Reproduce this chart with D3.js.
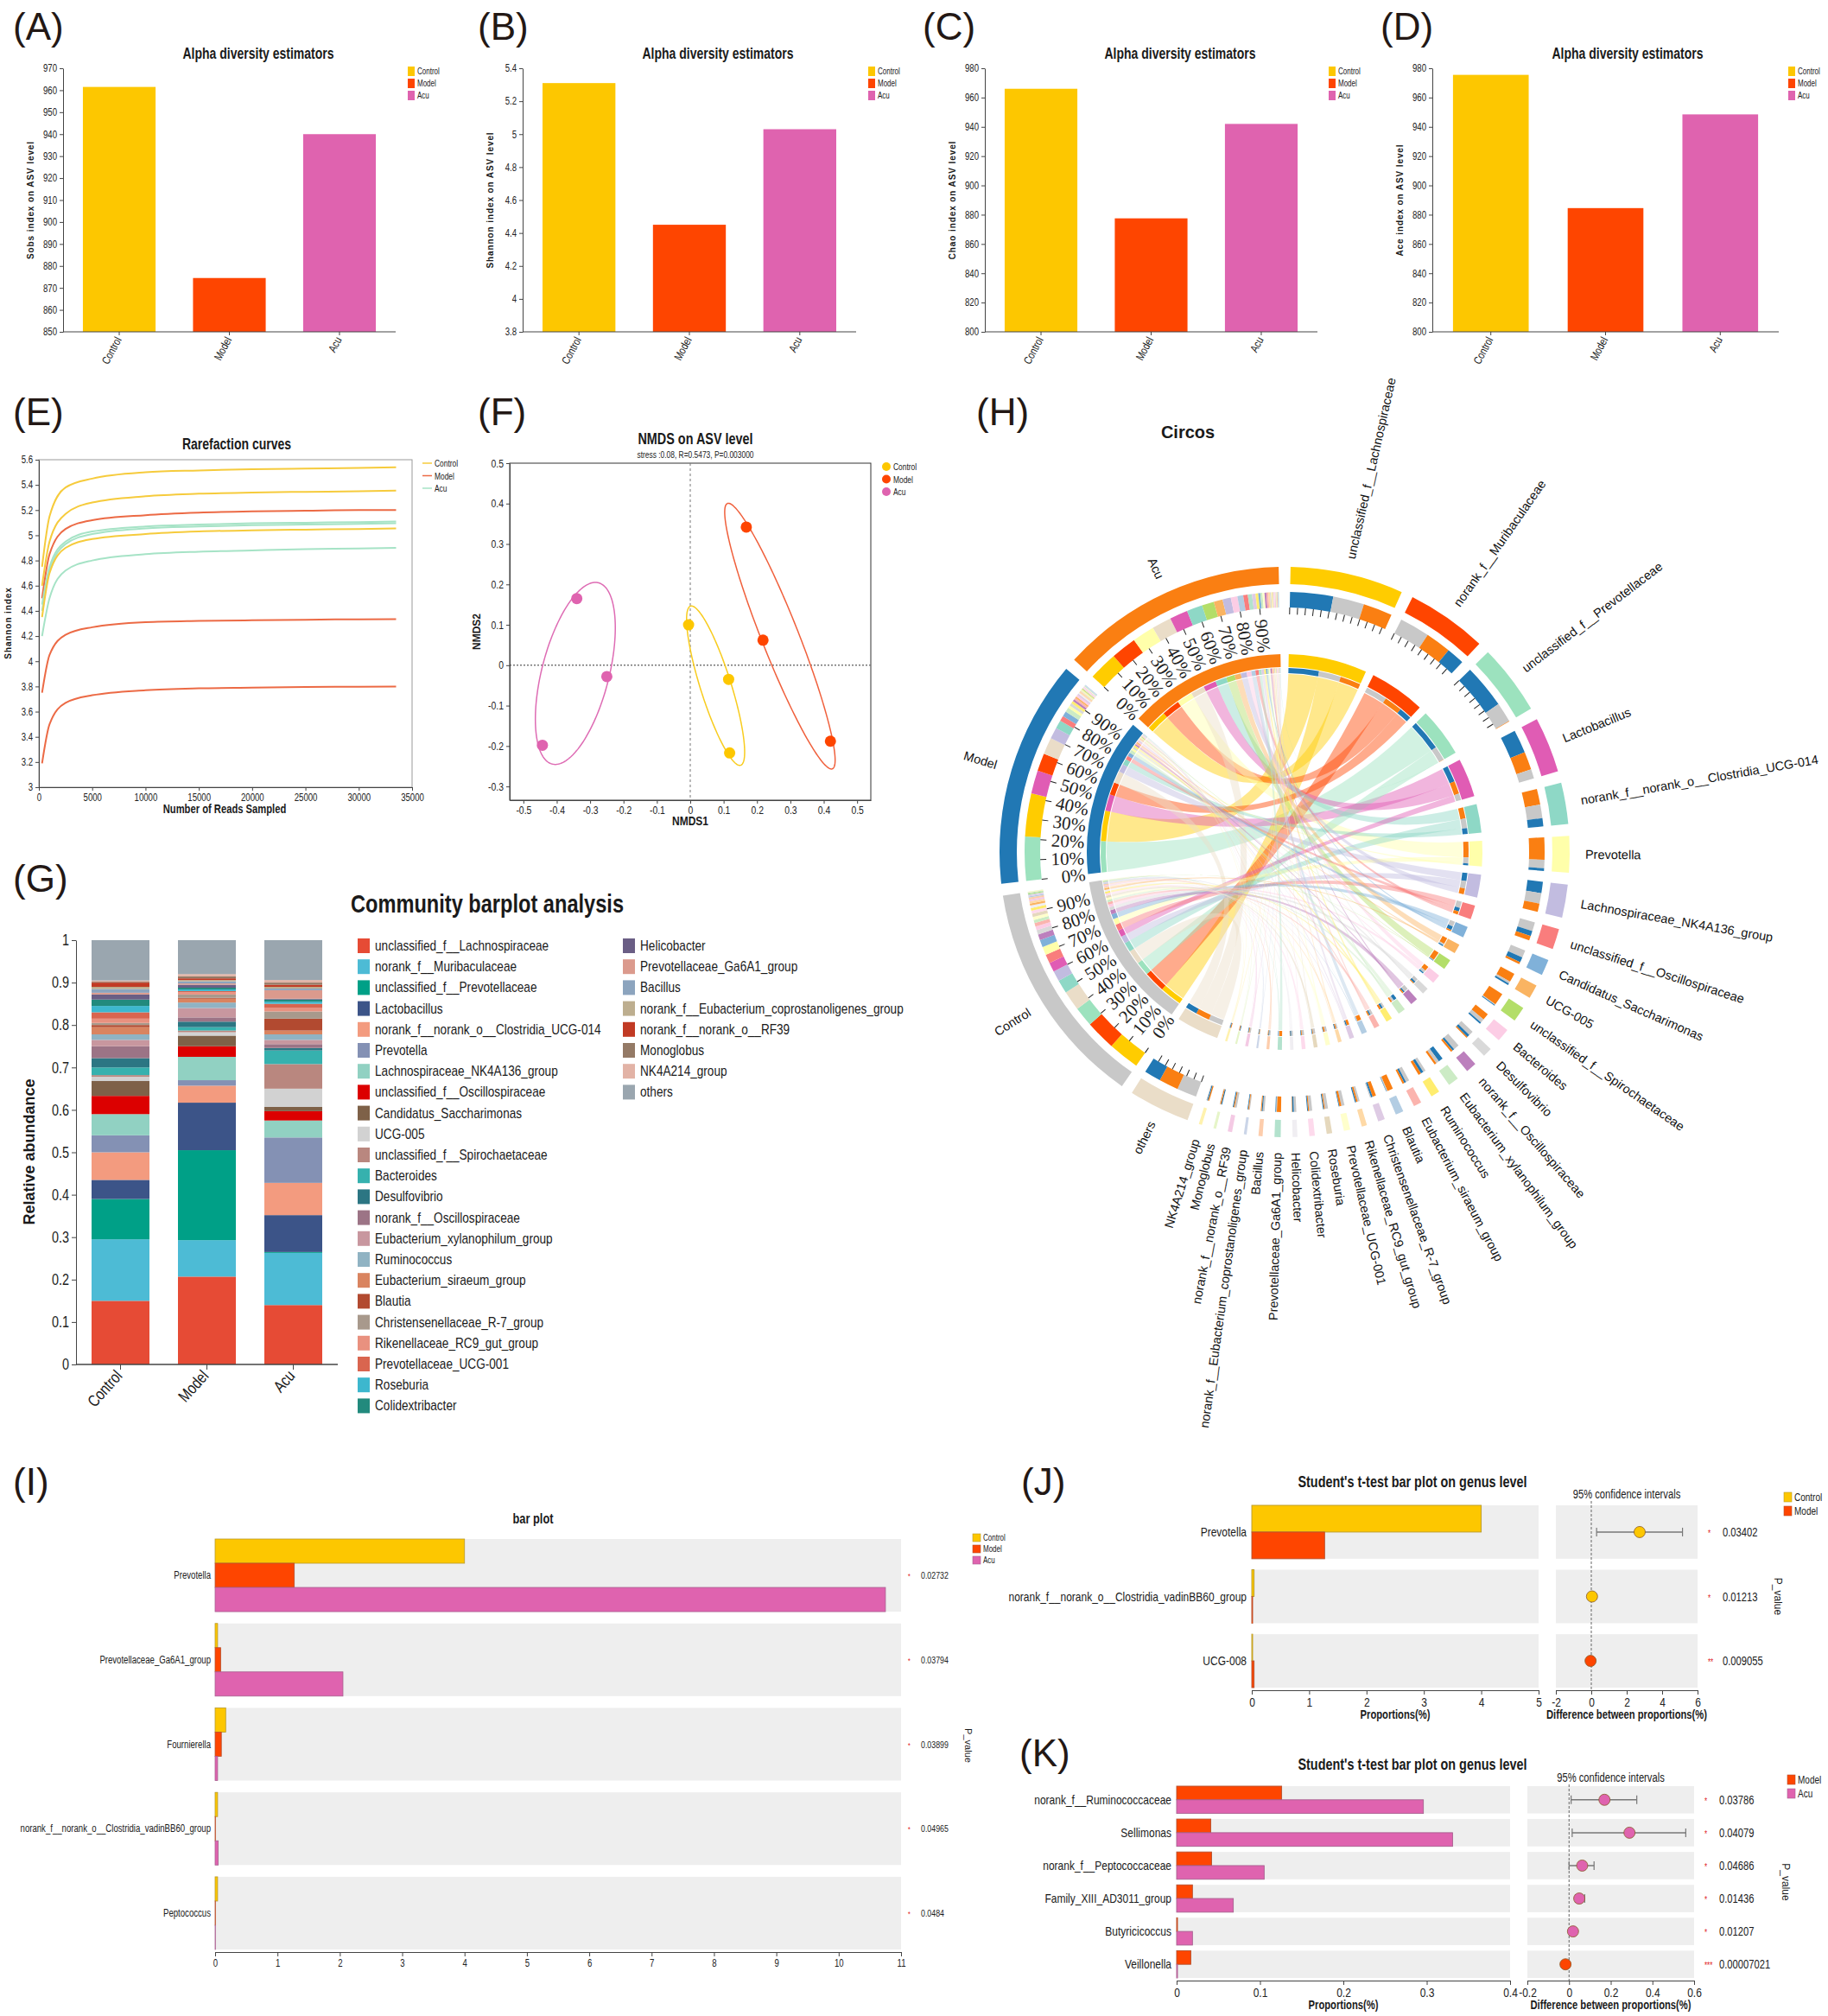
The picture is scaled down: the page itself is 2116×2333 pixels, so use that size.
<!DOCTYPE html>
<html>
<head>
<meta charset="utf-8">
<script src="https://cdn.jsdelivr.net/npm/d3@7"></script>
<style>body{margin:0;background:#fff}</style>
</head>
<body>
<div id="fig"></div>
<script>
// ---------------- data ----------------
var groups = ["Control", "Model", "Acu"];
var groupColors = ["#FDC700", "#FE4500", "#DF63AF"];

// (A)-(D) alpha diversity
var sobsValues = [961.5, 874.5, 940];
var shannonValues = [5.31, 4.45, 5.03];
var chaoValues = [966, 877.5, 942];
var aceValues = [975.5, 884.5, 948.5];

// (E) rarefaction curves, one row per sample
var readDepths = [300, 1000, 2500, 5000, 10000, 15000, 20000, 25000, 30000, 33500];
var rareSampleGroup = ["Control", "Control", "Model", "Acu", "Acu", "Control", "Acu", "Model", "Model"];
var rareShannon = [
    [4.75, 5.15, 5.38, 5.45, 5.50, 5.515, 5.525, 5.53, 5.535, 5.54],
    [4.60, 4.95, 5.17, 5.26, 5.31, 5.33, 5.34, 5.345, 5.35, 5.355],
    [4.50, 4.85, 5.05, 5.12, 5.16, 5.18, 5.19, 5.195, 5.20, 5.20],
    [4.45, 4.75, 4.95, 5.03, 5.07, 5.085, 5.095, 5.10, 5.105, 5.11],
    [4.40, 4.72, 4.93, 5.01, 5.055, 5.07, 5.08, 5.085, 5.09, 5.095],
    [4.35, 4.70, 4.90, 4.97, 5.01, 5.03, 5.04, 5.045, 5.05, 5.055],
    [4.20, 4.50, 4.72, 4.80, 4.85, 4.87, 4.88, 4.89, 4.895, 4.90],
    [3.75, 4.05, 4.21, 4.27, 4.31, 4.32, 4.325, 4.33, 4.333, 4.335],
    [3.19, 3.50, 3.67, 3.73, 3.77, 3.785, 3.79, 3.795, 3.798, 3.80]
];
var rareColors = ["#F6CB3C", "#EC6A45", "#A6E3C6"];

// (F) NMDS
var nmdsGroup = ["Control", "Control", "Control", "Model", "Model", "Model", "Acu", "Acu", "Acu"];
var nmds1 = [-0.005, 0.115, 0.118, 0.168, 0.218, 0.42, -0.34, -0.25, -0.443];
var nmds2 = [0.10, -0.035, -0.217, 0.342, 0.062, -0.188, 0.165, -0.028, -0.198];
var ellipseLineColors = ["#F8CC1E", "#F0603C", "#DE6CB4"];

// (G) and (H) genus composition
var taxa = ["unclassified_f__Lachnospiraceae", "norank_f__Muribaculaceae", "unclassified_f__Prevotellaceae",
    "Lactobacillus", "norank_f__norank_o__Clostridia_UCG-014", "Prevotella", "Lachnospiraceae_NK4A136_group",
    "unclassified_f__Oscillospiraceae", "Candidatus_Saccharimonas", "UCG-005", "unclassified_f__Spirochaetaceae",
    "Bacteroides", "Desulfovibrio", "norank_f__Oscillospiraceae", "Eubacterium_xylanophilum_group", "Ruminococcus",
    "Eubacterium_siraeum_group", "Blautia", "Christensenellaceae_R-7_group", "Rikenellaceae_RC9_gut_group",
    "Prevotellaceae_UCG-001", "Roseburia", "Colidextribacter", "Helicobacter", "Prevotellaceae_Ga6A1_group",
    "Bacillus", "norank_f__Eubacterium_coprostanoligenes_group", "norank_f__norank_o__RF39", "Monoglobus",
    "NK4A214_group", "others"];
var controlAbund = [0.15, 0.145, 0.095, 0.045, 0.065, 0.04, 0.05, 0.043, 0.035, 0.01, 0.004, 0.018, 0.022, 0.028, 0.015,
    0.013, 0.017, 0.005, 0.005, 0.01, 0.015, 0.015, 0.015, 0.012, 0.004, 0.009, 0.005, 0.01, 0.002, 0.003, 0.095];
var modelAbund = [0.207, 0.086, 0.212, 0.112, 0.04, 0.013, 0.055, 0.025, 0.025, 0.008, 0.004, 0.008, 0.013, 0.01, 0.022,
    0.013, 0.009, 0.002, 0.008, 0.005, 0.003, 0.004, 0.004, 0.007, 0.003, 0.005, 0.003, 0.004, 0.005, 0.005, 0.08];
var acuAbund = [0.14, 0.123, 0.002, 0.087, 0.076, 0.107, 0.04, 0.022, 0.01, 0.043, 0.058, 0.032, 0.006, 0.009, 0.01,
    0.013, 0.009, 0.028, 0.017, 0.008, 0.01, 0.005, 0.005, 0.002, 0.02, 0.004, 0.004, 0.005, 0.005, 0.006, 0.094];
var barTaxaColors = ["#E64B35", "#4DBBD5", "#00A087", "#3C5488", "#F39B7F", "#8491B4", "#91D1C2", "#DC0000",
    "#7E6148", "#D2D2D2", "#B9877F", "#36B1AE", "#2C7683", "#9C7486", "#C8979F", "#90B3C3", "#D98460", "#B24A30",
    "#A8998C", "#E9917F", "#D9654F", "#3DB7CE", "#228A7D", "#6A5E85", "#DB9A8D", "#8CA4BE", "#BDAE8F", "#C13A24",
    "#947A66", "#E2B3A6", "#9AA6AF"];
var circosTaxaColors = ["#FFCC00", "#FF4500", "#9CE2BE", "#E05CB4", "#8ED8C6", "#FFFFAA", "#C2BCE0", "#F97D7D",
    "#80B1D9", "#FAB462", "#B3DE69", "#FCCDE5", "#D9D9D9", "#BC80BD", "#CCEBC5", "#FFED6F", "#FBB4AE", "#B3CDE3",
    "#DECBE4", "#FED9A6", "#FFFFCC", "#E5D8BD", "#FDDAEC", "#F0EEF2", "#B3E2CD", "#FDCDAC", "#CBD5E8", "#F4CAE4",
    "#E6F5C9", "#FFF2AE", "#EADDC8"];
var circosSampleColors = ["#C8C8C8", "#2178B4", "#FA7F12"];

// (I) bar plot
var iTaxa = ["Prevotella", "Prevotellaceae_Ga6A1_group", "Fournierella", "norank_f__norank_o__Clostridia_vadinBB60_group", "Peptococcus"];
var iControl = [4.0, 0.04, 0.17, 0.04, 0.04];
var iModel = [1.27, 0.09, 0.10, 0.005, 0.005];
var iAcu = [10.75, 2.05, 0.04, 0.05, 0.005];
var iPvalues = ["0.02732", "0.03794", "0.03899", "0.04965", "0.0484"];

// (J) Control vs Model t-test
var jTaxa = ["Prevotella", "norank_f__norank_o__Clostridia_vadinBB60_group", "UCG-008"];
var jControl = [4.0, 0.04, 0.002];
var jModel = [1.27, 0.002, 0.04];
var jDiff = [2.73, 0.04, -0.04];
var jLow = [0.3, 0.02, -0.06];
var jHigh = [5.15, 0.06, -0.02];
var jPvalues = ["0.03402", "0.01213", "0.009055"];
var jStars = ["*", "*", "**"];

// (K) Model vs Acu t-test
var kTaxa = ["norank_f__Ruminococcaceae", "Sellimonas", "norank_f__Peptococcaceae", "Family_XIII_AD3011_group", "Butyricicoccus", "Veillonella"];
var kModel = [0.126, 0.041, 0.042, 0.019, 0.001, 0.017];
var kAcu = [0.296, 0.331, 0.105, 0.068, 0.019, 0.0005];
var kDiff = [0.17, 0.29, 0.063, 0.049, 0.019, -0.017];
var kLow = [0.01, 0.015, 0.0, 0.03, 0.015, -0.021];
var kHigh = [0.325, 0.56, 0.12, 0.075, 0.023, -0.013];
var kPvalues = ["0.03786", "0.04079", "0.04686", "0.01436", "0.01207", "0.00007021"];
var kStars = ["*", "*", "*", "*", "*", "***"];

// ---------------- drawing ----------------
// narrow text = Liberation Sans squeezed to ~80% width after layout
var NARROW = "'Liberation Sans',Arial,sans-serif";
var SANS = "'Liberation Sans',Arial,sans-serif";
var SERIF = "'Liberation Serif','Times New Roman',serif";

var svg = d3.select("#fig").append("svg")
            .attr("width", 2116)
            .attr("height", 2333)
            .style("background", "#fff");

function txt(g, x, y, s, size, opts) {
    opts = opts || {};
    var t = g.append("text")
        .attr("x", x).attr("y", y)
        .attr("font-family", opts.family || NARROW)
        .attr("font-size", size)
        .attr("fill", opts.fill || "#1a1a1a")
        .attr("text-anchor", opts.anchor || "start")
        .text(s);
    if (!opts.family) t.classed("nw", true);
    if (opts.weight) t.attr("font-weight", opts.weight);
    if (opts.rotate != null) t.attr("transform", "rotate(" + opts.rotate + "," + x + "," + y + ")");
    if (opts.spacing) t.attr("letter-spacing", opts.spacing);
    return t;
}

function styleAxis(g, size) {
    g.selectAll("text").attr("font-family", NARROW).attr("font-size", size).attr("fill", "#222").classed("nw", true);
    g.selectAll("line").attr("stroke", "#444");
    g.selectAll("path").attr("stroke", "#444");
}

function fmt(d) { return String(+d.toFixed(2)); }

// panel letters
[["(A)", 15, 46], ["(B)", 553, 46], ["(C)", 1068, 46], ["(D)", 1598, 46],
 ["(E)", 15, 492], ["(F)", 553, 492], ["(H)", 1130, 492], ["(G)", 15, 1032],
 ["(I)", 15, 1730], ["(J)", 1182, 1730], ["(K)", 1180, 2044]].forEach(function(p) {
    txt(svg, p[1], p[2], p[0], 44, {family: SANS, fill: "#231815"});
});

// ---- (A)-(D) alpha diversity bars ----
var alphaPanels = [
    {vals: sobsValues, lo: 850, hi: 970, step: 10, ytitle: "Sobs index on ASV level", x0: 73, x1: 458, lx: 472},
    {vals: shannonValues, lo: 3.8, hi: 5.4, step: 0.2, ytitle: "Shannon index on ASV level", x0: 605, x1: 991, lx: 1005},
    {vals: chaoValues, lo: 800, hi: 980, step: 20, ytitle: "Chao index on ASV level", x0: 1140, x1: 1525, lx: 1538},
    {vals: aceValues, lo: 800, hi: 980, step: 20, ytitle: "Ace index on ASV level", x0: 1658, x1: 2059, lx: 2070}
];

alphaPanels.forEach(function(p) {
    var top = 79, bottom = 384;
    var g = svg.append("g");
    var y = d3.scaleLinear().domain([p.lo, p.hi]).range([bottom, top]);
    var x = d3.scaleBand().domain(groups).range([p.x0, p.x1]).paddingInner(0.34).paddingOuter(0.18);

    g.selectAll("rect.bar")
        .data(p.vals)
        .enter()
        .append("rect")
        .attr("x", function(d, i) { return x(groups[i]); })
        .attr("width", x.bandwidth())
        .attr("y", function(d) { return y(d); })
        .attr("height", function(d) { return bottom - y(d); })
        .attr("fill", function(d, i) { return groupColors[i]; });

    var ticks = d3.range(p.lo, p.hi + p.step / 2, p.step);
    var ya = g.append("g").attr("transform", "translate(" + p.x0 + ",0)")
        .call(d3.axisLeft(y).tickValues(ticks).tickSize(4).tickSizeOuter(0).tickFormat(fmt));
    styleAxis(ya, 12);

    g.append("line").attr("x1", p.x0).attr("x2", p.x1).attr("y1", bottom).attr("y2", bottom)
        .attr("stroke", "#444");
    groups.forEach(function(gr) {
        var cx = x(gr) + x.bandwidth() / 2;
        g.append("line").attr("x1", cx).attr("x2", cx).attr("y1", bottom).attr("y2", bottom + 4).attr("stroke", "#444");
        txt(g, cx + 3, bottom + 9, gr, 13, {anchor: "end", rotate: -62});
    });

    txt(g, p.x0 + 226, 68, "Alpha diversity estimators", 17.5, {anchor: "middle", weight: "bold"});
    txt(g, p.x0 - 34, (top + bottom) / 2, p.ytitle, 10, {family: SANS, anchor: "middle", weight: "bold", rotate: -90, spacing: 0.9});

    groups.forEach(function(gr, i) {
        g.append("rect").attr("x", p.lx).attr("y", 77 + i * 14).attr("width", 8).attr("height", 11).attr("fill", groupColors[i]);
        txt(g, p.lx + 11, 86 + i * 14, gr, 10);
    });
});

// ---- (E) rarefaction ----
(function() {
    var g = svg.append("g");
    var x = d3.scaleLinear().domain([0, 35000]).range([45, 477]);
    var y = d3.scaleLinear().domain([3, 5.6]).range([911, 532]);
    g.append("rect").attr("x", 45).attr("y", 532).attr("width", 432).attr("height", 379)
        .attr("fill", "none").attr("stroke", "#999");
    var line = d3.line()
        .x(function(d) { return x(d[0]); })
        .y(function(d) { return y(d[1]); })
        .curve(d3.curveMonotoneX);
    rareShannon.forEach(function(vals, k) {
        var pts = vals.map(function(v, i) { return [readDepths[i], v]; });
        g.append("path").attr("d", line(pts)).attr("fill", "none")
            .attr("stroke", rareColors[groups.indexOf(rareSampleGroup[k])]).attr("stroke-width", 2);
    });
    var xa = g.append("g").attr("transform", "translate(0,911)")
        .call(d3.axisBottom(x).tickValues(d3.range(0, 35001, 5000)).tickSize(4).tickSizeOuter(0).tickFormat(d3.format("d")));
    styleAxis(xa, 12);
    var ya = g.append("g").attr("transform", "translate(45,0)")
        .call(d3.axisLeft(y).tickValues(d3.range(3, 5.61, 0.2)).tickSize(4).tickSizeOuter(0).tickFormat(fmt));
    styleAxis(ya, 12);
    txt(g, 274, 520, "Rarefaction curves", 17.5, {anchor: "middle", weight: "bold"});
    txt(g, 260, 941, "Number of Reads Sampled", 14, {anchor: "middle", weight: "bold"});
    txt(g, 13, 721, "Shannon index", 10, {family: SANS, anchor: "middle", weight: "bold", rotate: -90, spacing: 0.9});
    groups.forEach(function(gr, i) {
        g.append("line").attr("x1", 489).attr("x2", 500).attr("y1", 536 + i * 14.5).attr("y2", 536 + i * 14.5)
            .attr("stroke", rareColors[i]).attr("stroke-width", 1.5);
        txt(g, 503, 540 + i * 14.5, gr, 10.5);
    });
})();

// ---- (F) NMDS ----
(function() {
    var g = svg.append("g");
    var x = d3.scaleLinear().domain([-0.541, 0.541]).range([590, 1008]);
    var y = d3.scaleLinear().domain([-0.334, 0.5]).range([926, 536]);
    g.append("rect").attr("x", 590).attr("y", 536).attr("width", 418).attr("height", 390)
        .attr("fill", "none").attr("stroke", "#333");
    g.append("line").attr("x1", x(0)).attr("x2", x(0)).attr("y1", 536).attr("y2", 926)
        .attr("stroke", "#777").attr("stroke-dasharray", "3,3");
    g.append("line").attr("x1", 590).attr("x2", 1008).attr("y1", y(0)).attr("y2", y(0))
        .attr("stroke", "#777").attr("stroke-width", 1.6).attr("stroke-dasharray", "2,2");

    // 1.24-sd covariance ellipse of each group's points
    groups.forEach(function(gr, gi) {
        var idx = d3.range(nmds1.length).filter(function(i) { return nmdsGroup[i] === gr; });
        var mx = d3.mean(idx, function(i) { return nmds1[i]; });
        var my = d3.mean(idx, function(i) { return nmds2[i]; });
        var n = idx.length - 1;
        var sxx = d3.sum(idx, function(i) { return (nmds1[i] - mx) * (nmds1[i] - mx); }) / n;
        var syy = d3.sum(idx, function(i) { return (nmds2[i] - my) * (nmds2[i] - my); }) / n;
        var sxy = d3.sum(idx, function(i) { return (nmds1[i] - mx) * (nmds2[i] - my); }) / n;
        var tr = sxx + syy, det = sxx * syy - sxy * sxy;
        var l1 = tr / 2 + Math.sqrt(tr * tr / 4 - det), l2 = tr / 2 - Math.sqrt(tr * tr / 4 - det);
        var ang = Math.atan2(l1 - sxx, sxy);
        var k = 1.24;
        var pts = d3.range(0, 2 * Math.PI + 0.01, Math.PI / 90).map(function(t) {
            var u = k * Math.sqrt(l1) * Math.cos(t), v = k * Math.sqrt(Math.max(l2, 0)) * Math.sin(t);
            return [x(mx + u * Math.cos(ang) - v * Math.sin(ang)), y(my + u * Math.sin(ang) + v * Math.cos(ang))];
        });
        g.append("path").attr("d", d3.line()(pts)).attr("fill", "none")
            .attr("stroke", ellipseLineColors[gi]).attr("stroke-width", 1.5);
    });
    g.selectAll("circle.pt")
        .data(nmds1)
        .enter()
        .append("circle")
        .attr("cx", function(d) { return x(d); })
        .attr("cy", function(d, i) { return y(nmds2[i]); })
        .attr("r", 6.5)
        .attr("fill", function(d, i) { return groupColors[groups.indexOf(nmdsGroup[i])]; });

    var xa = g.append("g").attr("transform", "translate(0,926)")
        .call(d3.axisBottom(x).tickValues(d3.range(-0.5, 0.51, 0.1)).tickSize(4).tickSizeOuter(0).tickFormat(fmt));
    styleAxis(xa, 13);
    var ya = g.append("g").attr("transform", "translate(590,0)")
        .call(d3.axisLeft(y).tickValues(d3.range(-0.3, 0.51, 0.1)).tickSize(4).tickSizeOuter(0).tickFormat(fmt));
    styleAxis(ya, 13);
    txt(g, 805, 514, "NMDS on ASV level", 18, {anchor: "middle", weight: "bold"});
    txt(g, 805, 530, "stress :0.08, R=0.5473, P=0.003000", 10.5, {anchor: "middle"});
    txt(g, 799, 955, "NMDS1", 15, {anchor: "middle", weight: "bold"});
    txt(g, 556, 731, "NMDS2", 12, {family: SANS, anchor: "middle", weight: "bold", rotate: -90});
    groups.forEach(function(gr, i) {
        g.append("circle").attr("cx", 1026).attr("cy", 540 + i * 14.5).attr("r", 5).attr("fill", groupColors[i]);
        txt(g, 1034, 544 + i * 14.5, gr, 10.5);
    });
})();

// ---- (G) community barplot ----
(function() {
    var g = svg.append("g");
    var top = 1088, bottom = 1579;
    var y = d3.scaleLinear().domain([0, 1]).range([bottom, top]);
    var x = d3.scaleBand().domain(groups).range([88, 391]).paddingInner(0.33).paddingOuter(0.18);
    var abund = [controlAbund, modelAbund, acuAbund];
    var table = groups.map(function(gr, i) {
        var row = {group: gr};
        taxa.forEach(function(t, j) { row[t] = abund[i][j]; });
        return row;
    });
    var series = d3.stack().keys(taxa)(table);
    g.selectAll("g.layer")
        .data(series)
        .enter()
        .append("g")
        .attr("fill", function(d, i) { return barTaxaColors[i]; })
        .selectAll("rect")
        .data(function(d) { return d; })
        .enter()
        .append("rect")
        .attr("x", function(d) { return x(d.data.group); })
        .attr("width", x.bandwidth())
        .attr("y", function(d) { return y(d[1]); })
        .attr("height", function(d) { return Math.max(0, y(d[0]) - y(d[1])); });

    var ya = g.append("g").attr("transform", "translate(88,0)")
        .call(d3.axisLeft(y).tickValues(d3.range(0, 1.01, 0.1)).tickSize(5).tickSizeOuter(0).tickFormat(fmt));
    styleAxis(ya, 18);
    g.append("line").attr("x1", 88).attr("x2", 391).attr("y1", bottom).attr("y2", bottom).attr("stroke", "#444").attr("stroke-width", 1.5);
    groups.forEach(function(gr) {
        var cx = x(gr) + x.bandwidth() / 2;
        g.append("line").attr("x1", cx).attr("x2", cx).attr("y1", bottom).attr("y2", bottom + 6).attr("stroke", "#444");
        txt(g, cx + 3, bottom + 14, gr, 19, {anchor: "end", rotate: -48});
    });
    txt(g, 564, 1056, "Community barplot analysis", 29.5, {anchor: "middle", weight: "bold"});
    txt(g, 40, 1333, "Relative abundance", 18, {family: SANS, anchor: "middle", weight: "bold", rotate: -90});

    taxa.forEach(function(t, j) {
        var col = j < 23 ? 0 : 1;
        var row = j < 23 ? j : j - 23;
        var lx = col === 0 ? 414 : 721;
        var ly = 1094 + row * 24.2;
        g.append("rect").attr("x", lx).attr("y", ly - 8).attr("width", 14).attr("height", 17).attr("fill", barTaxaColors[j]);
        txt(g, lx + 20, ly + 6, t, 17);
    });
})();

// ---- (H) circos ----
(function() {
    var cx = 1487, cy = 986;
    var g = svg.append("g").attr("transform", "translate(" + cx + "," + cy + ")");
    var rad = Math.PI / 180;
    var abund = [controlAbund, modelAbund, acuAbund];
    var gapDeg = 2.4;
    var unitDeg = (360 - (taxa.length + groups.length) * gapDeg) / 6;
    var taxaTotals = taxa.map(function(t, j) { return controlAbund[j] + modelAbund[j] + acuAbund[j]; });

    var sectors = [];
    var a = gapDeg / 2;
    taxa.forEach(function(t, j) {
        sectors.push({name: t, kind: "taxon", idx: j, start: a, end: a + taxaTotals[j] * unitDeg});
        a += taxaTotals[j] * unitDeg + gapDeg;
    });
    groups.forEach(function(gr, i) {
        sectors.push({name: gr, kind: "sample", idx: i, start: a, end: a + unitDeg});
        a += unitDeg + gapDeg;
    });
    var taxSec = sectors.filter(function(s) { return s.kind === "taxon"; });
    var smpSec = sectors.filter(function(s) { return s.kind === "sample"; });

    // positions of each link end, in degrees
    var smpPos = groups.map(function(gr, i) {
        var order = d3.range(taxa.length).sort(function(p, q) { return abund[i][q] - abund[i][p]; });
        var pos = [], c = smpSec[i].start;
        order.forEach(function(j) { pos[j] = {s: c, e: c + abund[i][j] * unitDeg}; c += abund[i][j] * unitDeg; });
        return {order: order, pos: pos};
    });
    var taxPos = taxa.map(function(t, j) {
        var order = [0, 1, 2].sort(function(p, q) { return abund[q][j] - abund[p][j]; });
        var pos = [], c = taxSec[j].start;
        order.forEach(function(i) { pos[i] = {s: c, e: c + abund[i][j] * unitDeg}; c += abund[i][j] * unitDeg; });
        return {order: order, pos: pos};
    });

    var arc = d3.arc();
    function ring(r0, r1, s, e, fill) {
        g.append("path")
            .attr("d", arc({innerRadius: r0, outerRadius: r1, startAngle: s * rad, endAngle: e * rad}))
            .attr("fill", fill);
    }

    // chords
    var links = [];
    groups.forEach(function(gr, i) {
        taxa.forEach(function(t, j) { if (abund[i][j] > 0) links.push({i: i, j: j, v: abund[i][j]}); });
    });
    links.sort(function(p, q) { return q.v - p.v; });
    var ribbon = d3.ribbon().radius(206);
    links.forEach(function(l) {
        var sp = smpPos[l.i].pos[l.j], tp = taxPos[l.j].pos[l.i];
        g.append("path")
            .attr("d", ribbon({source: {startAngle: sp.s * rad, endAngle: sp.e * rad},
                               target: {startAngle: tp.s * rad, endAngle: tp.e * rad}}))
            .attr("fill", circosTaxaColors[l.j])
            .attr("fill-opacity", 0.45);
    });

    // sample sectors
    smpSec.forEach(function(sec, i) {
        ring(310, 330, sec.start, sec.end, circosSampleColors[i]);
        ring(214, 229, sec.start, sec.end, circosSampleColors[i]);
        smpPos[i].order.forEach(function(j) {
            var p = smpPos[i].pos[j];
            ring(283, 301, p.s, p.e, circosTaxaColors[j]);
            ring(207, 213, p.s, p.e, circosTaxaColors[j]);
        });
        d3.range(0, 10).forEach(function(k) {
            var ang = sec.start + k * 0.1 * unitDeg;
            var tg = g.append("g").attr("transform", "rotate(" + (ang - 90) + ")");
            tg.append("line").attr("x1", 276).attr("x2", 283).attr("stroke", "#222");
            tg.append("text").attr("transform", "translate(232,0) rotate(180)")
                .attr("text-anchor", "end").attr("dominant-baseline", "central")
                .attr("font-family", SERIF).attr("font-size", 21).attr("fill", "#222")
                .text((k * 10) + "%");
        });
    });

    // taxon sectors
    taxSec.forEach(function(sec, j) {
        ring(310, 330, sec.start, sec.end, circosTaxaColors[j]);
        ring(214, 229, sec.start, sec.end, circosTaxaColors[j]);
        taxPos[j].order.forEach(function(i) {
            var p = taxPos[j].pos[i];
            ring(283, 301, p.s, p.e, circosSampleColors[i]);
            ring(207, 213, p.s, p.e, circosSampleColors[i]);
        });
        if (taxaTotals[j] >= 0.25) {
            d3.range(0, taxaTotals[j], 0.04).forEach(function(v) {
                g.append("line").attr("transform", "rotate(" + (sec.start + v * unitDeg - 90) + ")")
                    .attr("x1", 275).attr("x2", 283).attr("stroke", "#222");
            });
        }
    });

    // labels
    sectors.forEach(function(sec) {
        var mid = (sec.start + sec.end) / 2;
        var flip = mid > 180;
        g.append("text")
            .attr("transform", "rotate(" + (mid - 90) + ") translate(348,0)" + (flip ? " rotate(180)" : ""))
            .attr("text-anchor", flip ? "end" : "start")
            .attr("dominant-baseline", "central")
            .attr("font-family", SANS)
            .attr("font-size", 14.5)
            .attr("fill", "#111")
            .text(sec.name);
    });
    txt(svg, 1375, 507, "Circos", 20, {family: SANS, anchor: "middle", weight: "bold"});
})();

// ---- (I) bar plot ----
(function() {
    var g = svg.append("g");
    var x = d3.scaleLinear().domain([0, 11]).range([249, 1043]);
    var y = d3.scaleBand().domain(iTaxa).range([1781, 2256]).paddingInner(0.14);
    var sets = [iControl, iModel, iAcu];
    var strokes = ["#B89A2A", "#B5502E", "#A86090"];
    iTaxa.forEach(function(t, r) {
        var y0 = y(t), h = y.bandwidth();
        g.append("rect").attr("x", 249).attr("y", y0).attr("width", 794).attr("height", h).attr("fill", "#EEEEEE");
        sets.forEach(function(vals, k) {
            g.append("rect").attr("x", x(0)).attr("y", y0 + k * h / 3).attr("width", x(vals[r]) - x(0)).attr("height", h / 3)
                .attr("fill", groupColors[k]).attr("stroke", strokes[k]).attr("stroke-width", 0.8);
        });
        txt(g, 244, y0 + h / 2 + 4, t, 12, {anchor: "end"});
        txt(g, 1051, y0 + h / 2 + 4, "*", 9, {fill: "#E02020"});
        txt(g, 1066, y0 + h / 2 + 4, iPvalues[r], 11);
    });
    var xa = g.append("g").attr("transform", "translate(0,2259)")
        .call(d3.axisBottom(x).ticks(11).tickSize(5).tickSizeOuter(0));
    styleAxis(xa, 12);
    txt(g, 617, 1763, "bar plot", 16, {anchor: "middle", weight: "bold"});
    txt(g, 1117, 2020, "P_value", 11, {family: SANS, anchor: "middle", rotate: 90});
    groups.forEach(function(gr, i) {
        g.append("rect").attr("x", 1126).attr("y", 1775 + i * 13).attr("width", 9).attr("height", 9)
            .attr("fill", groupColors[i]).attr("stroke", strokes[i]).attr("stroke-width", 0.6);
        txt(g, 1138, 1783 + i * 13, gr, 10);
    });
})();

// ---- (J) / (K) t-test panels ----
function ttestPanel(c) {
    var g = svg.append("g");
    var xl = d3.scaleLinear().domain(c.ldom).range(c.lrange);
    var xr = d3.scaleLinear().domain(c.rdom).range(c.rrange);
    var y = d3.scaleBand().domain(c.taxa).range(c.yrange).paddingInner(0.17);
    var h = y.bandwidth();
    c.taxa.forEach(function(t, r) {
        var y0 = y(t);
        g.append("rect").attr("x", c.lrange[0]).attr("y", y0).attr("width", c.lrange[1] - c.lrange[0]).attr("height", h).attr("fill", "#EEEEEE");
        g.append("rect").attr("x", c.rrange[0]).attr("y", y0).attr("width", c.rrange[1] - c.rrange[0]).attr("height", h).attr("fill", "#EEEEEE");
        [c.a, c.b].forEach(function(vals, k) {
            g.append("rect").attr("x", xl(0)).attr("y", y0 + k * h / 2).attr("width", Math.max(1, xl(vals[r]) - xl(0))).attr("height", h / 2)
                .attr("fill", c.colors[k]).attr("stroke", c.strokes[k]).attr("stroke-width", 0.9);
        });
        txt(g, c.lrange[0] - 6, y0 + h / 2 + 5, t, c.labelSize, {anchor: "end"});
        txt(g, c.starX, y0 + h / 2 + 5, c.stars[r], 10, {fill: "#E02020"});
        txt(g, c.starX + 17, y0 + h / 2 + 5, c.pvals[r], 14);
    });
    g.append("line").attr("x1", xr(0)).attr("x2", xr(0)).attr("y1", c.dashTop).attr("y2", c.yrange[1] + 3)
        .attr("stroke", "#666").attr("stroke-dasharray", "3,2");
    c.taxa.forEach(function(t, r) {
        var cyy = y(t) + h / 2;
        if (c.hi[r] - c.lo[r] > 0.02 * (c.rdom[1] - c.rdom[0])) {
            g.append("line").attr("x1", xr(c.lo[r])).attr("x2", xr(c.hi[r])).attr("y1", cyy).attr("y2", cyy).attr("stroke", "#777").attr("stroke-width", 1.5);
            [c.lo[r], c.hi[r]].forEach(function(v) {
                g.append("line").attr("x1", xr(v)).attr("x2", xr(v)).attr("y1", cyy - 5).attr("y2", cyy + 5).attr("stroke", "#777").attr("stroke-width", 1.2);
            });
        }
        g.append("circle").attr("cx", xr(c.diff[r])).attr("cy", cyy).attr("r", 6.5)
            .attr("fill", c.diff[r] >= 0 ? c.posColor : c.negColor).attr("stroke", "#8a5a2a").attr("stroke-width", 0.8);
    });
    var axY = c.yrange[1] + 3;
    var xa = g.append("g").attr("transform", "translate(0," + axY + ")")
        .call(d3.axisBottom(xl).tickValues(c.lticks).tickSize(5).tickSizeOuter(0).tickFormat(fmt));
    styleAxis(xa, 15);
    var xb = g.append("g").attr("transform", "translate(0," + axY + ")")
        .call(d3.axisBottom(xr).tickValues(c.rticks).tickSize(5).tickSizeOuter(0).tickFormat(fmt));
    styleAxis(xb, 15);
    txt(g, (c.lrange[0] + c.lrange[1]) / 2, axY + 33, "Proportions(%)", 14, {anchor: "middle", weight: "bold"});
    txt(g, (c.rrange[0] + c.rrange[1]) / 2, axY + 33, "Difference between proportions(%)", 14, {anchor: "middle", weight: "bold"});
    txt(g, 1635, c.titleY, "Student's t-test bar plot on genus level", 18, {anchor: "middle", weight: "bold"});
    txt(g, (c.rrange[0] + c.rrange[1]) / 2, c.ciY, "95% confidence intervals", 14, {anchor: "middle"});
    txt(g, c.pvX, (c.yrange[0] + c.yrange[1]) / 2, "P_value", 12, {family: SANS, anchor: "middle", rotate: 90});
    c.names.forEach(function(nm, i) {
        g.append("rect").attr("x", c.legX).attr("y", c.legY + i * 16).attr("width", 9).attr("height", 11)
            .attr("fill", c.colors[i]).attr("stroke", c.strokes[i]).attr("stroke-width", 0.6);
        txt(g, c.legX + 12, c.legY + i * 16 + 10, nm, 12.5);
    });
}

ttestPanel({
    taxa: jTaxa, a: jControl, b: jModel, diff: jDiff, lo: jLow, hi: jHigh, pvals: jPvalues, stars: jStars,
    names: ["Control", "Model"], colors: [groupColors[0], groupColors[1]], strokes: ["#B89A2A", "#B5502E"],
    posColor: groupColors[0], negColor: groupColors[1],
    ldom: [0, 5], lrange: [1449, 1781], rdom: [-2, 6], rrange: [1801, 1965], yrange: [1742, 1953],
    lticks: [0, 1, 2, 3, 4, 5], rticks: [-2, 0, 2, 4, 6], labelSize: 15,
    starX: 1977, pvX: 2054, legX: 2065, legY: 1727, titleY: 1721, ciY: 1734, dashTop: 1737
});

ttestPanel({
    taxa: kTaxa, a: kModel, b: kAcu, diff: kDiff, lo: kLow, hi: kHigh, pvals: kPvalues, stars: kStars,
    names: ["Model", "Acu"], colors: [groupColors[1], groupColors[2]], strokes: ["#B5502E", "#A86090"],
    posColor: groupColors[2], negColor: groupColors[1],
    ldom: [0, 0.4], lrange: [1362, 1748], rdom: [-0.2, 0.6], rrange: [1768, 1961], yrange: [2067, 2289],
    lticks: [0, 0.1, 0.2, 0.3, 0.4], rticks: [-0.2, 0, 0.2, 0.4, 0.6], labelSize: 15,
    starX: 1973, pvX: 2063, legX: 2069, legY: 2054, titleY: 2048, ciY: 2062, dashTop: 2065
});

// squeeze "narrow" texts to an Arial-Narrow-like width
svg.selectAll("text.nw").each(function() {
    var w = this.getComputedTextLength();
    if (w > 0) d3.select(this).attr("textLength", w * 0.8).attr("lengthAdjust", "spacingAndGlyphs");
});
</script>
</body>
</html>
